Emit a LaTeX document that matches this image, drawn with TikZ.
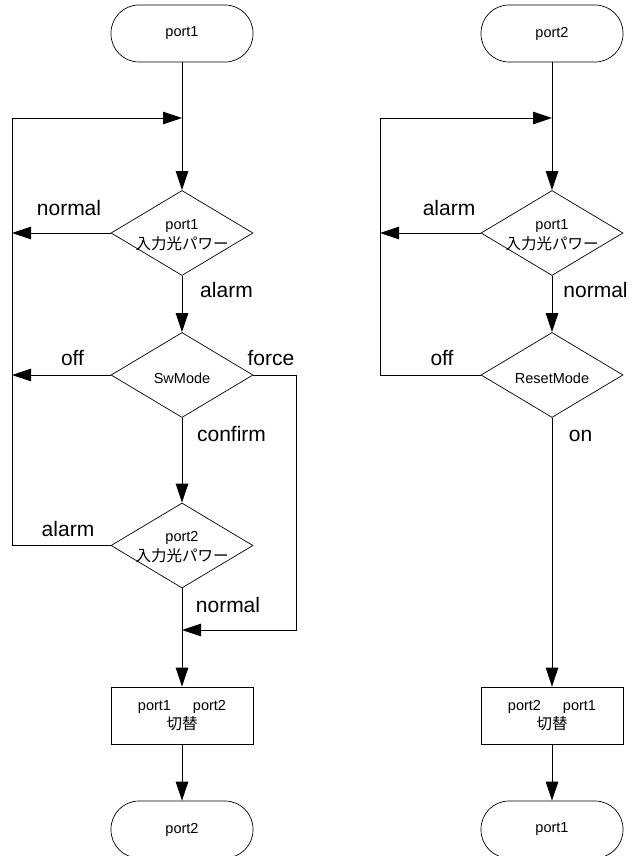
\documentclass[tikz,border=0pt]{standalone}
\usepackage{fontspec}
\setmainfont{Liberation Sans}
\newfontfamily\cjk{Noto Sans CJK JP}
\usepackage{tikz}
\usetikzlibrary{positioning, calc, shapes.geometric, arrows.meta}
\newcommand{\jtext}[1]{{\cjk\fontsize{15.5}{20}\selectfont #1}}
\tikzset{
    terminal/.style={
        rectangle,
        rounded corners=28pt,
        minimum height=57pt,
        minimum width=142pt,
        inner sep=0pt,
        draw=black,
        line width=0.7pt,
        font=\fontsize{14.5}{19}\selectfont
    },
    decision/.style={
        diamond,
        aspect=1.67,
        minimum height=85pt,
        minimum width=142pt,
        inner sep=0pt,
        draw=black,
        line width=0.7pt
    },
    dtext/.style={align=center, inner sep=0pt, yshift=-2pt, font=\fontsize{14.5}{20}\selectfont},
    process/.style={
        rectangle,
        minimum height=57pt,
        minimum width=142pt,
        align=center,
        draw=black,
        line width=0.7pt,
        font=\fontsize{14.5}{19}\selectfont
    },
    branch/.style={anchor=base, inner sep=0pt, font=\fontsize{21}{24}\selectfont},
    flow/.style={-{Triangle[length=19pt, width=12.5pt]}, line width=0.9pt},
    link/.style={line width=0.9pt}
}

\begin{document}
\begin{tikzpicture}[x=1pt, y=-1pt]

\clip (0,0) rectangle (632,856);

% port1 side
\node[terminal] (start1) at (182,33.5) {port1};
\coordinate (join1) at (182,118);
\coordinate (loop1) at (12,118);
\node[decision, label={[dtext]center:{port1\\\jtext{入力光パワー}}}] (pw1) at (182,233) {};
\node[decision, label={[dtext, yshift=-1pt]center:{SwMode}}] (mode1) at (182,375) {};
\node[decision, label={[dtext]center:{port2\\\jtext{入力光パワー}}}] (pw2) at (182,545.5) {};
\coordinate (merge1) at (182,630);
\coordinate (corner1) at (296,630);
\node[process] (swap1) at (182,715.5) {port1\hspace{22pt}port2\\\jtext{切替}};
\node[terminal] (end1) at (182,829.5) {port2};

\draw[flow] (start1) -- (pw1);
\draw[flow] (pw1) -- (mode1);
\draw[flow] (mode1) -- (pw2);
\draw[flow] (pw2) -- (swap1);
\draw[flow] (swap1) -- (end1);
\draw[flow] (pw1.west) -- (pw1.west -| loop1);
\draw[flow] (mode1.west) -- (mode1.west -| loop1);
\draw[flow] (pw2.west) -| (loop1) -- (join1);
\draw[flow] (mode1.east) -| (corner1) -- (merge1);

\node[branch] (lb_normal1) at (69,215) {normal};
\node[branch] (lb_alarm1) at (226.5,297) {alarm};
\node[branch] (lb_off1) at (72.5,365) {off};
\node[branch] (lb_force1) at (271,365) {force};
\node[branch] (lb_confirm1) at (231.5,441.5) {confirm};
\node[branch] (lb_alarm2) at (68,536) {alarm};
\node[branch] (lb_normal2) at (228,612.5) {normal};

% port2 side
\node[terminal] (start2) at (552,33.5) {port2};
\coordinate (join2) at (552,118);
\coordinate (loop2) at (380,118);
\node[decision, label={[dtext]center:{port1\\\jtext{入力光パワー}}}] (pw3) at (552,233) {};
\node[decision, label={[dtext, yshift=-1pt]center:{ResetMode}}] (reset2) at (552,375) {};
\node[process] (swap2) at (552,715.5) {port2\hspace{22pt}port1\\\jtext{切替}};
\node[terminal] (end2) at (552,829.5) {port1};

\draw[flow] (start2) -- (pw3);
\draw[flow] (pw3) -- (reset2);
\draw[flow] (reset2) -- (swap2);
\draw[flow] (swap2) -- (end2);
\draw[flow] (pw3.west) -- (pw3.west -| loop2);
\draw[flow] (reset2.west) -| (loop2) -- (join2);

\node[branch] (lb_alarm3) at (449,215) {alarm};
\node[branch] (lb_normal3) at (595.5,297) {normal};
\node[branch] (lb_off2) at (442,365) {off};
\node[branch] (lb_on2) at (580.5,441.5) {on};

\end{tikzpicture}
\end{document}
